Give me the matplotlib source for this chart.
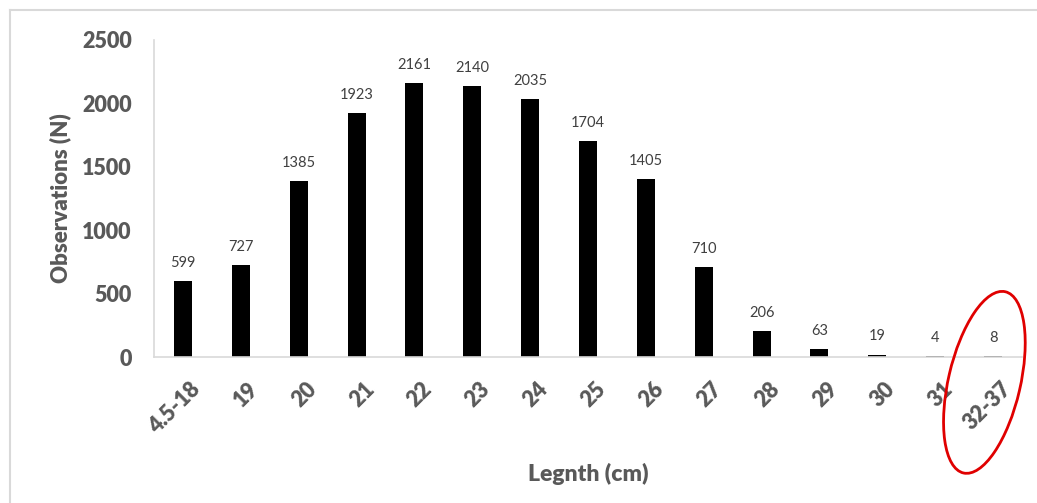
import numpy as np
import matplotlib.pyplot as plt
from matplotlib.patches import Ellipse
from matplotlib.lines import Line2D
import matplotlib.transforms as mtransforms

# Lengteklassen en aantallen
categories = ["4.5-18", "19", "20", "21", "22", "23", "24", "25",
              "26", "27", "28", "29", "30", "31", "32-37"]
counts = [599, 727, 1385, 1923, 2161, 2140, 2035, 1704,
          1405, 710, 206, 63, 19, 4, 8]
yticks = [0, 500, 1000, 1500, 2000, 2500]

plt.rcParams["font.family"] = ["Lato", "DejaVu Sans"]
grey = "#595959"

fig = plt.figure(figsize=(10.37, 5.03), dpi=100)
ax = fig.add_axes([154 / 1037, 1 - 357 / 503, 868 / 1037, 317 / 503])

x = np.arange(len(categories))
ax.bar(x, counts, width=0.31, color="black")
for xi, c in zip(x, counts):
    ax.annotate(str(c), (xi, c), xytext=(0, 8), textcoords="offset points",
                ha="center", va="bottom", fontsize=10.5, color="#404040")

ax.set_xlim(-0.5, len(categories) - 0.5)
ax.set_ylim(0, 2500)
ax.set_yticks(yticks)
ax.set_xticks(x)
ax.set_xticklabels(categories, rotation=45, ha="right", rotation_mode="anchor")
ax.tick_params(length=0, labelsize=15.5, labelcolor=grey, pad=14)
ax.tick_params(axis="y", pad=16)
shift = mtransforms.ScaledTranslation(7 / 100, -2 / 100, fig.dpi_scale_trans)
for lab in ax.get_xticklabels():
    lab.set_fontweight("heavy")
    lab.set_transform(lab.get_transform() + shift)
for lab in ax.get_yticklabels():
    lab.set_fontweight("heavy")

for s in ["top", "right"]:
    ax.spines[s].set_visible(False)
ax.spines["left"].set_color("#d9d9d9")
ax.spines["bottom"].set_color("#d9d9d9")
ax.spines["left"].set_linewidth(1.2)
ax.spines["bottom"].set_linewidth(1.2)

ax.set_ylabel("Observations (N)", fontsize=16, fontweight="heavy", color=grey, labelpad=8)
ax.set_xlabel("Legnth (cm)", fontsize=16.5, fontweight="heavy", color=grey, labelpad=18)

# rode ellips rond de laatste klasse (in pixels rond dat punt)
trans = mtransforms.blended_transform_factory(ax.transData, ax.transAxes)
cx, cy = trans.transform((x[-1] - 0.15, -0.08))
ell = Ellipse((cx, cy), width=72, height=186, angle=-13, transform=None,
              fill=False, edgecolor="#e00000", linewidth=2, clip_on=False)
fig.add_artist(ell)

# rand van de figuur
fig.add_artist(Line2D([10 / 1037, 1], [1 - 10 / 503, 1 - 10 / 503],
                      color="#d9d9d9", linewidth=1.5))
fig.add_artist(Line2D([10 / 1037, 10 / 1037], [0, 1 - 10 / 503],
                      color="#d9d9d9", linewidth=1.5))

fig.savefig("out.png", dpi=100)
